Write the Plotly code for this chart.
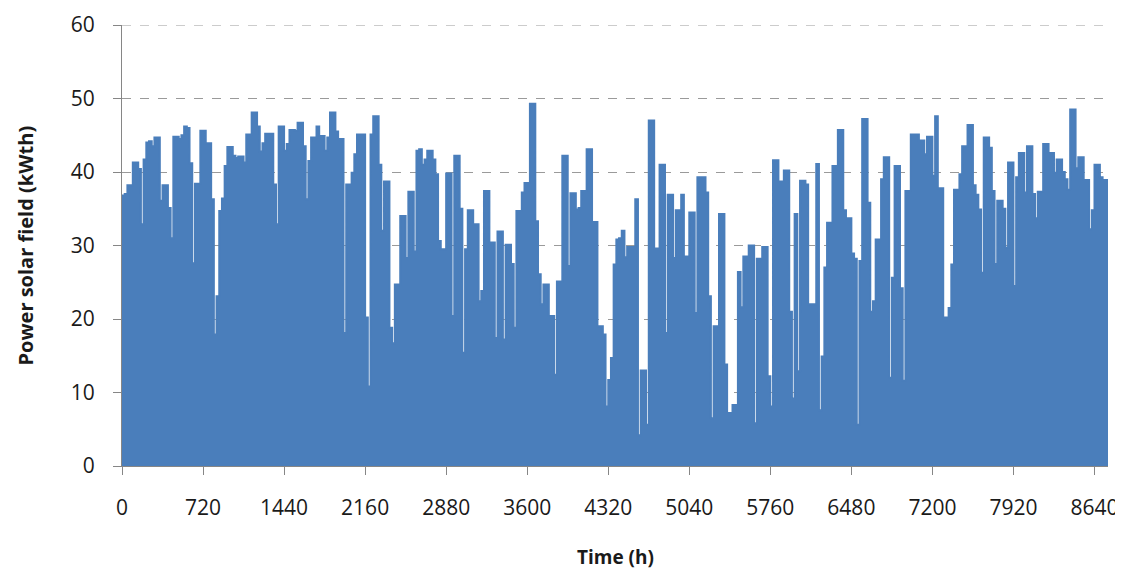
import plotly.graph_objects as go

# Daily peak of solar field power (kWth), day 0..364
peaks_q1 = [36.8, 37, 38.2, 38.2, 41.3, 41.3, 40.4, 32.9, 41.7, 44, 44.2, 43.5, 44.7, 44.7, 36.1, 38.2,
            38.2, 35.1, 31, 44.8, 44.8, 44.5, 45, 46.2, 46, 41.2, 27.6, 38.4, 38.4, 45.6, 45.6, 43.9,
            43.9, 36.3, 17.9, 23.1, 34.7, 36.4, 40.8, 43.4, 43.4, 42.2, 41.9, 42.1, 42.1, 41.3, 45.1,
            45.1, 48.1, 48.1, 46.2, 42.8, 43.9, 45.2, 45.2, 45.2, 38.3, 32.9, 46.2, 46.2, 42.9, 43.8,
            45.7, 45.7, 45.6, 46.7, 46.7, 43.5, 36.3, 41.5, 44.7, 44.7, 46.2, 44.9, 44.9, 42.9, 44.7,
            48.1, 48.1, 45.5, 44.5, 44.5, 18.1, 38.3, 38.3, 39.9, 42.4, 45.1, 45.1, 45.1, 20.2]
peaks_q2 = [10.8, 45.1, 47.6, 47.6, 41, 32, 38.7, 38.7, 18.8, 16.7, 24.7, 24.7, 34, 34, 28.3, 37.3,
            37.3, 29.2, 42.9, 43.1, 41, 41.7, 42.9, 42.9, 41.7, 39.7, 30.6, 29.5, 29.5, 39.8, 39.8,
            20.4, 42.2, 42.2, 35, 15.4, 29.5, 34.8, 34.8, 32.9, 32.9, 22.4, 23.8, 37.4, 37.4, 30.4,
            30.4, 17.4, 31.9, 31.9, 17.2, 30.1, 30.1, 27.5, 18.8, 34.7, 34.7, 37.2, 38.5, 38.5, 49.3,
            49.3, 33.3, 26.1, 22, 24.7, 24.7, 20.4, 20.4, 12.4, 25.1, 25.1, 42.2, 42.2, 27.2, 37.1,
            37.1, 34.9, 35.1, 37.4, 37.4, 43.1, 43.1, 33.2, 33.2, 19, 19, 17.9, 8.1, 11.7, 14.7, 27.4]
peaks_q3 = [30.8, 31, 32, 28.4, 29.8, 29.8, 29.8, 36.3, 4.2, 13, 13, 5.6, 47, 47, 29.6, 29.6, 41, 41,
            18.1, 36.9, 36.9, 28.3, 34.8, 34.8, 36.9, 28.5, 28.5, 34.5, 34.5, 20.8, 39.3, 39.3, 39.3,
            37.2, 23.1, 6.5, 19, 19, 34.3, 34.3, 13.8, 7.2, 7.2, 8.3, 8.3, 26.4, 21.6, 28.5, 28.5, 30,
            30, 5.8, 28.2, 28.2, 29.8, 29.8, 12.2, 8.1, 41.6, 41.6, 38.7, 38.7, 40.2, 40.2, 21, 9.2,
            34.3, 12.9, 38.8, 38.8, 38.3, 22, 22, 22, 41.1, 7.6, 14.9, 27, 33.1, 33.1, 40.8, 40.8, 45.7,
            45.7, 34.8, 33.7, 33.7, 28.9, 28.2, 5.6, 27.9]
peaks_q4 = [47.2, 47.2, 35.8, 21, 22.4, 30.8, 30.8, 39, 42, 42, 12, 25.6, 40.8, 40.8, 24.2, 11.6,
            37.4, 37.4, 45.1, 45.1, 45.1, 44.3, 44.3, 42.4, 44.8, 44.8, 39.5, 47.6, 37.8, 37.8, 20.2,
            20.2, 21.5, 27.4, 37.6, 37.6, 39.7, 43.5, 43.5, 46.4, 46.4, 38.2, 36.9, 34.9, 26.3, 44.7,
            44.7, 43.3, 37.4, 27.5, 36.1, 36.1, 35, 29.7, 41.3, 41.3, 24.5, 39.3, 42.6, 42.6, 37.2,
            43.5, 43.5, 37, 33.7, 37.3, 37.3, 43.8, 43.8, 42.6, 42.6, 39.9, 41.7, 41.7, 40, 39, 37.6,
            48.5, 48.5, 40.5, 42, 42, 38.9, 38.9, 32.2, 34.8, 41, 41, 39.3, 38.9, 38.9]
daily_peaks = peaks_q1 + peaks_q2 + peaks_q3 + peaks_q4

hours_per_day = 24
x_tick_vals = [0, 720, 1440, 2160, 2880, 3600, 4320, 5040, 5760, 6480, 7200, 7920, 8640]
y_tick_vals = [0, 10, 20, 30, 40, 50, 60]
x_title = "Time (h)"
y_title = "Power solar field (kWth)"

x_hours = [d * hours_per_day for d in range(len(daily_peaks))] + [len(daily_peaks) * hours_per_day]
y_vals = daily_peaks + [daily_peaks[-1]]

blue = "#4a7ebb"
axis_grey = "#868686"
font_family = "'Open Sans', 'Noto Sans', sans-serif"
text_color = "#1a1a1a"

fig = go.Figure()
fig.add_trace(go.Scatter(
    x=x_hours, y=y_vals, mode="lines", line=dict(color=blue, width=2, shape="hv"),
    fill="tozeroy", fillcolor=blue, hoverinfo="skip", showlegend=False,
))

fig.update_layout(
    width=1115, height=564,
    margin=dict(l=114, r=15, t=17, b=106, autoexpand=False),
    paper_bgcolor="white", plot_bgcolor="white",
    font=dict(family=font_family, size=21, color=text_color),
    xaxis=dict(
        range=[0, 8760], tickmode="array", tickvals=x_tick_vals, automargin=False,
        ticks="outside", ticklen=8, tickcolor=axis_grey, ticklabelstandoff=15,
        showline=True, linecolor=axis_grey, linewidth=1, showgrid=False, zeroline=False,
    ),
    yaxis=dict(
        range=[0, 60], tickmode="array", tickvals=y_tick_vals, automargin=False,
        ticks="outside", ticklen=8, tickcolor=axis_grey, ticklabelstandoff=14,
        showline=True, linecolor=axis_grey, linewidth=1,
        showgrid=True, gridcolor="#9a9a9a", griddash="dash", gridwidth=1, zeroline=False,
    ),
    shapes=[dict(type="line", xref="paper", yref="y", x0=0, x1=0.995, y0=60, y1=60,
                 line=dict(color="#9a9a9a", width=1, dash="dash"), layer="below")],
    annotations=[
        dict(text="<b>" + x_title + "</b>", xref="paper", yref="paper", x=0.5, y=0,
             xanchor="center", yanchor="middle", yshift=-91, showarrow=False,
             font=dict(size=19, family=font_family, color=text_color)),
        dict(text="<b>" + y_title + "</b>", xref="paper", yref="paper", x=0, y=0.5,
             xanchor="center", yanchor="middle", xshift=-97, textangle=-90, showarrow=False,
             font=dict(size=20, family=font_family, color=text_color)),
    ],
)

fig.write_html("out.html")
